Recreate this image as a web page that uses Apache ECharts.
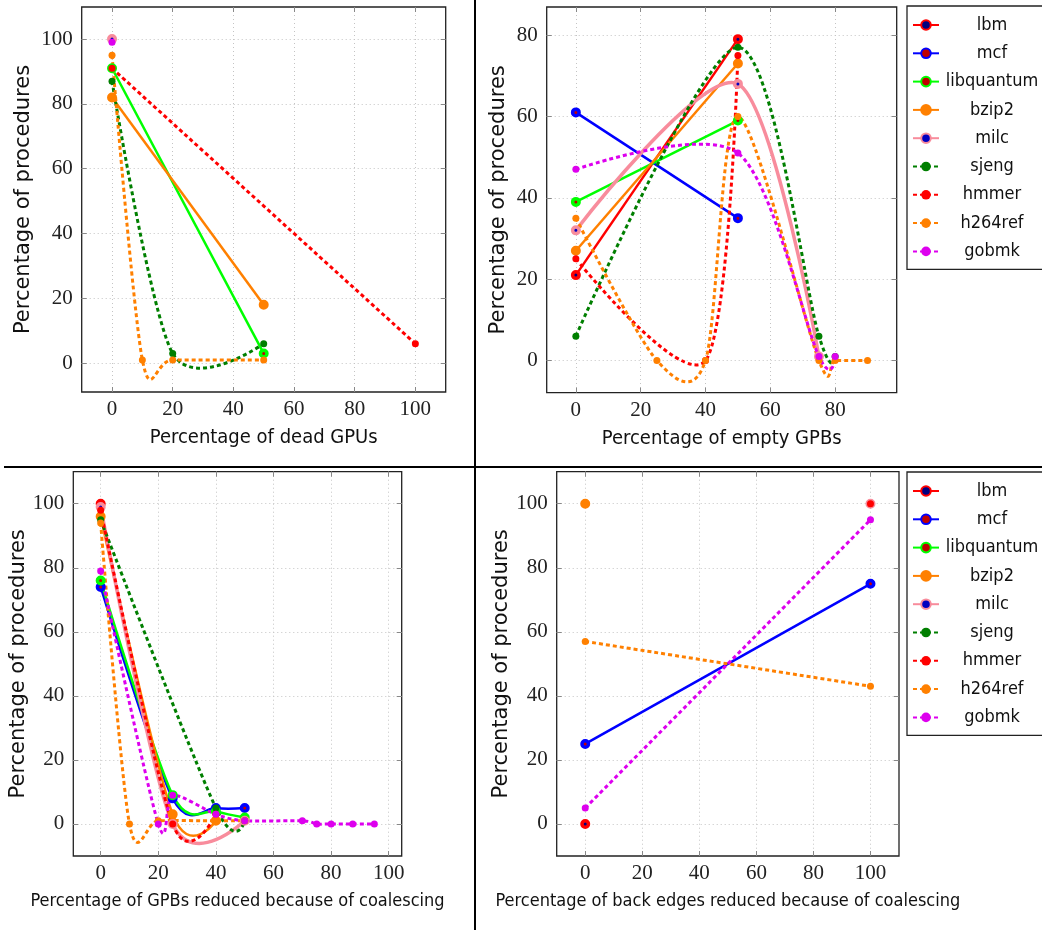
<!DOCTYPE html>
<html>
<head>
<meta charset="utf-8">
<title>Percentage of procedures</title>
<script src="https://cdn.jsdelivr.net/npm/echarts@6/dist/echarts.min.js"></script>
<style>
  html, body { margin: 0; padding: 0; background: #fff; }
  #chart { width: 1042px; height: 930px; }
</style>
</head>
<body>
<div id="chart"></div>
<script>
// benchmarks, in legend order
const benchmarks = ['lbm', 'mcf', 'libquantum', 'bzip2', 'milc', 'sjeng', 'hmmer', 'h264ref', 'gobmk']
const lineColors = ['#ff0000', '#0000ff', '#00ff00', '#ff8000', '#f88c9c', '#007f00', '#ff0000', '#ff8000', '#dd00ee']
const centerColors = ['#000080', '#c00000', '#c00000', '#ff8000', '#0000c0', '#007f00', '#ff0000', '#ff8000', '#dd00ee']
const dashed = [false, false, false, false, false, true, true, true, true]

// [x, y] points per benchmark (same order as benchmarks)
const deadGpus = [
  [], [],
  [[0, 91], [50, 3]],
  [[0, 82], [50, 18]],
  [[0, 100]],
  [[0, 87], [20, 3], [50, 6]],
  [[0, 91], [100, 6]],
  [[0, 95], [10, 1], [20, 1], [50, 1]],
  [[0, 99]]
]
const emptyGpbs = [
  [[0, 21], [50, 79]],
  [[0, 61], [50, 35]],
  [[0, 39], [50, 59]],
  [[0, 27], [50, 73]],
  [[0, 32], [50, 68], [75, 1]],
  [[0, 6], [50, 77], [75, 6], [80, 1]],
  [[0, 25], [40, 0], [50, 75]],
  [[0, 35], [25, 0], [40, 0], [50, 60], [75, 0], [80, 0], [90, 0]],
  [[0, 47], [50, 51], [75, 1], [80, 1]]
]
const gpbsCoalesced = [
  [[0, 100]],
  [[0, 74], [25, 8], [40, 5], [50, 5]],
  [[0, 76], [25, 9], [40, 4], [50, 2]],
  [[0, 96], [25, 3], [40, 1]],
  [[0, 99], [25, 0], [50, 1]],
  [[0, 95], [40, 5], [50, 1]],
  [[0, 98], [25, 0], [40, 3]],
  [[0, 94], [10, 0], [20, 1], [40, 1], [50, 1]],
  [[0, 79], [20, 0], [25, 9], [40, 3], [50, 1], [70, 1], [75, 0], [80, 0], [87.5, 0], [95, 0]]
]
const backEdges = [
  [[0, 0]],
  [[0, 25], [100, 75]],
  [],
  [[0, 100]],
  [[100, 100]],
  [],
  [[100, 100]],
  [[0, 57], [100, 43]],
  [[0, 5], [100, 95]]
]

const ticks100 = [0, 20, 40, 60, 80, 100]
const ticks80 = [0, 20, 40, 60, 80]
const xNames = [
  'Percentage of dead GPUs',
  'Percentage of empty GPBs',
  'Percentage of GPBs reduced because of coalescing',
  'Percentage of back edges reduced because of coalescing'
]
const yName = 'Percentage of procedures'

const panels = [
  { data: deadGpus, grid: { left: 81.7, top: 7, width: 364, height: 385 }, x: [-10, 110], y: [-8.9, 109.9], xt: ticks100, yt: ticks100, yGap: 48, xFont: 20 },
  { data: emptyGpbs, grid: { left: 546.7, top: 7, width: 350, height: 385.7 }, x: [-9, 99], y: [-7.9, 86.9], xt: ticks80, yt: ticks80, yGap: 38, xFont: 20 },
  { data: gpbsCoalesced, grid: { left: 73.3, top: 471.7, width: 328.4, height: 384.3 }, x: [-9.5, 104.5], y: [-10, 110], xt: ticks100, yt: ticks100, yGap: 40, xFont: 18 },
  { data: backEdges, grid: { left: 556.7, top: 471.7, width: 342.3, height: 384.3 }, x: [-10, 110], y: [-10, 110], xt: ticks100, yt: ticks100, yGap: 42, xFont: 18 }
]

const tickFont = { fontFamily: 'Liberation Serif', fontSize: 21, color: '#222' }
const tickLine = { color: '#888', width: 1 }

// pgfplots-like smooth curve through the pixel points
function curvePath(c) {
  const k = 0.145
  let d = 'M' + c[0][0] + ' ' + c[0][1]
  for (let i = 0; i < c.length - 1; i++) {
    const p1 = c[i], p2 = c[i + 1]
    let c1 = p1, c2 = p2
    if (i > 0) {
      const p0 = c[i - 1]
      c1 = [p1[0] + k * (p2[0] - p0[0]), p1[1] + k * (p2[1] - p0[1])]
    }
    if (i + 2 < c.length) {
      const p3 = c[i + 2]
      c2 = [p2[0] - k * (p3[0] - p1[0]), p2[1] - k * (p3[1] - p1[1])]
    }
    d += ' C' + c1[0] + ' ' + c1[1] + ' ' + c2[0] + ' ' + c2[1] + ' ' + p2[0] + ' ' + p2[1]
  }
  return d
}

const grid = [], xAxis = [], yAxis = [], series = []

panels.forEach((p, g) => {
  grid.push(Object.assign({ show: true, borderColor: '#222', borderWidth: 1.3, backgroundColor: 'transparent' }, p.grid))
  xAxis.push({
    type: 'value', gridIndex: g, min: p.x[0], max: p.x[1], position: 'bottom',
    name: xNames[g], nameLocation: 'middle', nameGap: 36,
    nameTextStyle: { fontFamily: 'DejaVu Sans Condensed', fontSize: p.xFont, color: '#111' },
    axisLine: { show: false, onZero: false },
    axisTick: { inside: true, length: 5, customValues: p.xt, lineStyle: tickLine },
    axisLabel: Object.assign({ customValues: p.xt, margin: 7 }, tickFont),
    splitLine: { show: true, lineStyle: { color: '#c4c4c4', width: 1, type: [1, 3] } }
  })
  xAxis.push({
    type: 'value', gridIndex: g, min: p.x[0], max: p.x[1], position: 'top',
    axisLine: { show: false, onZero: false },
    axisTick: { inside: true, length: 5, customValues: p.xt, lineStyle: tickLine },
    axisLabel: { show: false }, splitLine: { show: false }
  })
  yAxis.push({
    type: 'value', gridIndex: g, min: p.y[0], max: p.y[1], position: 'left',
    name: yName, nameLocation: 'middle', nameRotate: 90, nameGap: p.yGap,
    nameTextStyle: { fontFamily: 'DejaVu Sans', fontSize: 21, color: '#111' },
    axisLine: { show: false, onZero: false },
    axisTick: { inside: true, length: 5, customValues: p.yt, lineStyle: tickLine },
    axisLabel: Object.assign({ customValues: p.yt, margin: 9 }, tickFont),
    splitLine: { show: true, lineStyle: { color: '#c4c4c4', width: 1, type: [1, 3] } }
  })
  yAxis.push({
    type: 'value', gridIndex: g, min: p.y[0], max: p.y[1], position: 'right',
    axisLine: { show: false, onZero: false },
    axisTick: { inside: true, length: 5, customValues: p.yt, lineStyle: tickLine },
    axisLabel: { show: false }, splitLine: { show: false }
  })

  p.data.forEach((pts, b) => {
    const color = lineColors[b]
    const width = dashed[b] ? 3 : (benchmarks[b] === 'milc' ? 3.5 : 2.5)
    const lineDash = dashed[b] ? [4, 3] : null
    // curve through the points
    if (pts.length > 1) {
      series.push({
        type: 'custom', xAxisIndex: 2 * g, yAxisIndex: 2 * g, data: pts, z: 2 + b * 0.01, silent: true,
        renderItem: (params, api) => {
          if (params.dataIndex !== 0) return null
          const c = pts.map(pt => api.coord(pt))
          return {
            type: 'path',
            shape: { pathData: curvePath(c) },
            style: { fill: 'none', stroke: color, lineWidth: width, lineDash: lineDash, lineCap: 'butt', lineJoin: 'round' }
          }
        }
      })
    }
    // marks only (each point isolated); also gives the legend icon
    const marks = []
    pts.forEach((pt, i) => { if (i) marks.push([pt[0], '-']); marks.push(pt) })
    series.push({
      name: benchmarks[b], type: 'line', xAxisIndex: 2 * g, yAxisIndex: 2 * g,
      data: marks, z: 3 + b * 0.01, showSymbol: true, symbol: 'circle',
      symbolSize: dashed[b] ? 7 : 6.5,
      lineStyle: { color: color, width: width, type: dashed[b] ? [4, 3] : 'solid' },
      itemStyle: dashed[b]
        ? { color: color, borderWidth: 0 }
        : { color: centerColors[b], borderColor: color, borderWidth: 3.5 },
      emphasis: { disabled: true }
    })
  })
})

function legendAt(top) {
  return {
    data: benchmarks, orient: 'vertical', left: 907, top: top,
    itemWidth: 26, itemHeight: 12, itemGap: 10.3,
    padding: [10, 6, 9, 5],
    borderColor: '#222', borderWidth: 1.3, backgroundColor: '#fff',
    selectedMode: false,
    formatter: name => '{c|' + name + '}',
    textStyle: {
      rich: { c: { width: 96, height: 18, lineHeight: 18, align: 'center', fontFamily: 'DejaVu Sans Condensed', fontSize: 18, color: '#111' } }
    }
  }
}

const chart = echarts.init(document.getElementById('chart'), null, { renderer: 'canvas' })
chart.setOption({
  backgroundColor: '#fff',
  animation: false,
  grid: grid,
  xAxis: xAxis,
  yAxis: yAxis,
  legend: [legendAt(6), legendAt(472)],
  series: series,
  graphic: [
    { type: 'line', shape: { x1: 475, y1: 0, x2: 475, y2: 930 }, style: { stroke: '#000', lineWidth: 2 }, z: 10 },
    { type: 'line', shape: { x1: 4, y1: 467, x2: 1042, y2: 467 }, style: { stroke: '#000', lineWidth: 2 }, z: 10 }
  ]
})
</script>
</body>
</html>
